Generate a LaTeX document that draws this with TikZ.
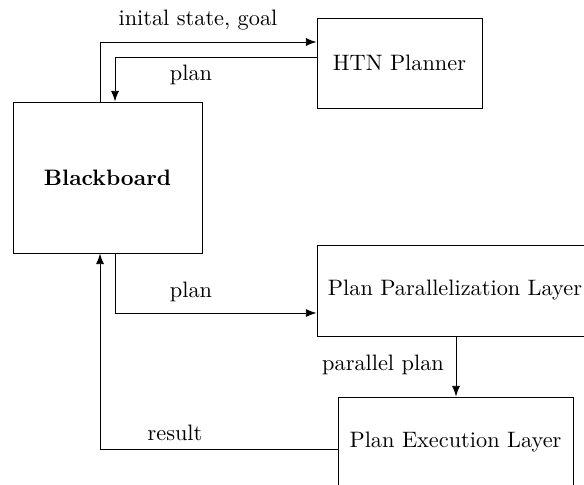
\documentclass[tikz,border=0pt]{standalone}
\usetikzlibrary{arrows.meta}
\def\u{0.448pt}
\tikzset{
  block/.style={draw, rectangle, inner sep=0pt, align=center},
  arr/.style={-{Latex[length=4.8pt,width=3.6pt]}},
  lbl/.style={inner sep=0pt}
}
\begin{document}
\begin{tikzpicture}[x=\u, y=-\u]
\useasboundingbox (0,0) rectangle (584,484);
\clip (0,0) rectangle (584,484);

% components
\node[block, minimum width=189*\u, minimum height=151*\u] (bb) at (107.5,177.5) {\textbf{Blackboard}};
\node[block, minimum width=165*\u, minimum height=90*\u] (htn) at (399.5,63) {HTN Planner};
\node[block, minimum width=276*\u, minimum height=91*\u] (ppl) at (455,290.5) {Plan Parallelization Layer};
\node[block, minimum width=235*\u, minimum height=91*\u] (pel) at (455.5,442.5) {Plan Execution Layer};

% routing points
\coordinate (k1) at (100,42);
\coordinate (k2) at (115,57);
\coordinate (k3) at (115,313);
\coordinate (k4) at (456,0);
\coordinate (k5) at (100,449);

% connectors
\draw[arr] (bb.north -| k1) |- (htn.west |- k1);
\draw[arr] (htn.west |- k2) -| (bb.north -| k2);
\draw[arr] (bb.south -| k3) |- (ppl.west |- k3);
\draw[arr] (ppl.south -| k4) -- (pel.north -| k4);
\draw[arr] (pel.west |- k5) -| (bb.south -| k5);

% connector labels
\node[lbl] (l1) at (198,20) {inital state, goal};
\node[lbl] (l2) at (191,75) {plan};
\node[lbl] (l3) at (191,292) {plan};
\node[lbl] (l4) at (383,365) {parallel plan};
\node[lbl] (l5) at (175,433) {result};
\end{tikzpicture}
\end{document}
